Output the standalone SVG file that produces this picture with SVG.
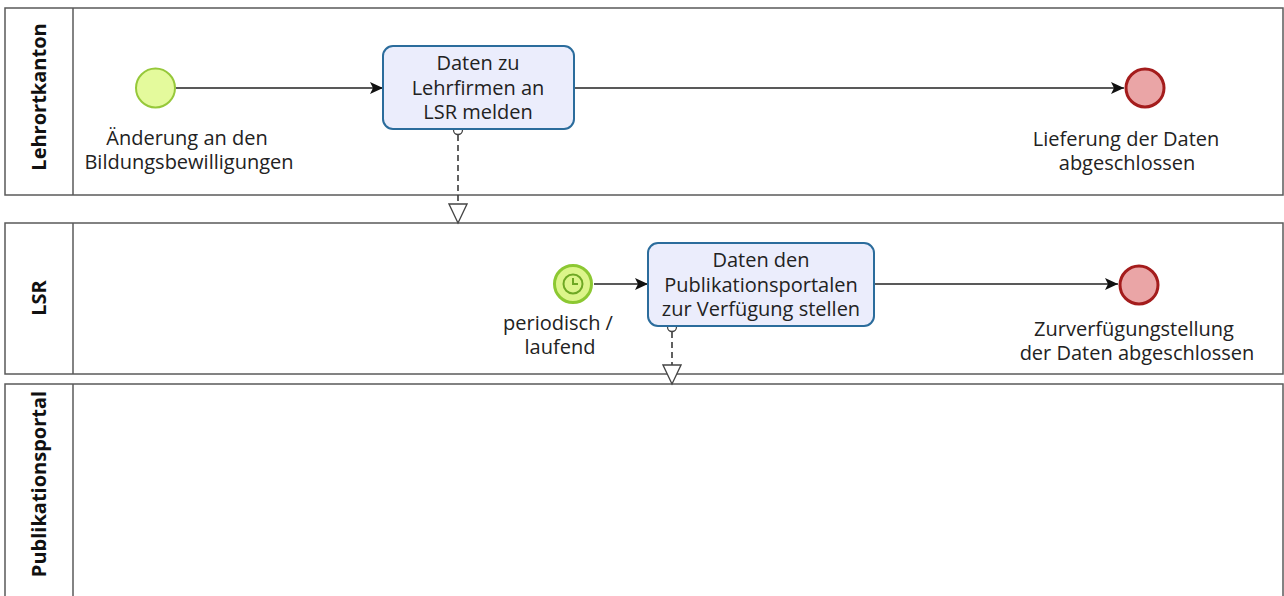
<svg xmlns="http://www.w3.org/2000/svg" width="1284" height="596" viewBox="0 0 1284 596">
  <style>
    .pool { fill: #ffffff; stroke: #5a5a5a; stroke-width: 1.5; }
    .hdr { stroke: #5a5a5a; stroke-width: 1.5; }
    .plabel { font-family: "Open Sans", "Noto Sans", sans-serif; font-weight: bold; font-size: 20px; fill: #111; text-anchor: middle; }
    .txt { font-family: "Open Sans", "Noto Sans", sans-serif; font-size: 20px; fill: #222; text-anchor: middle; }
    .task { fill: #ebedfc; stroke: #2b6c9c; stroke-width: 2; }
    .start { fill: #e4fa9c; stroke: #96c83a; stroke-width: 2; }
    .timer { fill: #dcf58a; stroke: #8cc832; stroke-width: 3; }
    .end { fill: #eaa5a6; stroke: #a41c1c; stroke-width: 3; }
    .seq { fill: none; stroke: #222; stroke-width: 1.5; }
    .msg { fill: none; stroke: #3a3a3a; stroke-width: 1.6; stroke-dasharray: 6 4; }
  </style>
  <defs>
    <marker id="seqArrow" markerWidth="14" markerHeight="12" refX="13" refY="6" orient="auto" markerUnits="userSpaceOnUse">
      <path d="M0,0 L13,6 L0,12 L3,6 Z" fill="#111"/>
    </marker>
    <marker id="msgArrow" markerWidth="20" markerHeight="22" refX="10" refY="20" orient="0" markerUnits="userSpaceOnUse">
      <path d="M1,1 L19,1 L10,20 Z" fill="#fff" stroke="#444" stroke-width="1.3"/>
    </marker>
  </defs>

  <!-- Pools -->
  <g id="pool-lehrortkanton">
    <rect class="pool" x="5" y="8" width="1278" height="187"/>
    <line class="hdr" x1="73" y1="8" x2="73" y2="195"/>
    <text class="plabel" transform="translate(46,97) rotate(-90)">Lehrortkanton</text>
  </g>
  <g id="pool-lsr">
    <rect class="pool" x="5" y="223" width="1278" height="151"/>
    <line class="hdr" x1="73" y1="223" x2="73" y2="374"/>
    <text class="plabel" transform="translate(46,298) rotate(-90)">LSR</text>
  </g>
  <g id="pool-publikationsportal">
    <rect class="pool" x="5" y="384" width="1278" height="220"/>
    <line class="hdr" x1="73" y1="384" x2="73" y2="604"/>
    <text class="plabel" transform="translate(46,484) rotate(-90)">Publikationsportal</text>
  </g>

  <!-- Connectors -->
  <g id="connectors">
    <line class="seq" x1="176" y1="88" x2="383" y2="88" marker-end="url(#seqArrow)"/>
    <line class="seq" x1="574" y1="88" x2="1124" y2="88" marker-end="url(#seqArrow)"/>
    <line class="seq" x1="594" y1="284" x2="648" y2="284" marker-end="url(#seqArrow)"/>
    <line class="seq" x1="875" y1="284" x2="1118" y2="284" marker-end="url(#seqArrow)"/>
    <line class="msg" x1="458" y1="135" x2="458" y2="223" marker-end="url(#msgArrow)"/>
    <circle cx="458" cy="130" r="4.5" fill="#fff" stroke="#444" stroke-width="1.3"/>
    <line class="msg" x1="672" y1="332" x2="672" y2="384" marker-end="url(#msgArrow)"/>
    <circle cx="672" cy="327" r="4.5" fill="#fff" stroke="#444" stroke-width="1.3"/>
  </g>

  <!-- Lehrortkanton -->
  <g id="start-aenderung">
    <circle class="start" cx="155.5" cy="88" r="19.5"/>
    <text class="txt" x="187" y="145">Änderung an den</text>
    <text class="txt" x="189" y="169">Bildungsbewilligungen</text>
  </g>
  <g id="task-daten-melden">
    <rect class="task" x="383" y="46" width="191" height="83" rx="10"/>
    <text class="txt" x="478" y="70">Daten zu</text>
    <text class="txt" x="478" y="95">Lehrfirmen an</text>
    <text class="txt" x="478" y="119">LSR melden</text>
  </g>
  <g id="end-lieferung">
    <circle class="end" cx="1145" cy="88" r="19"/>
    <text class="txt" x="1126" y="146">Lieferung der Daten</text>
    <text class="txt" x="1127" y="170">abgeschlossen</text>
  </g>

  <!-- LSR -->
  <g id="timer-periodisch">
    <circle class="timer" cx="573" cy="284" r="18.5"/>
    <circle cx="573" cy="284" r="9.5" fill="none" stroke="#6ea824" stroke-width="2"/>
    <path d="M573,278 L573,284 L578,284" fill="none" stroke="#6ea824" stroke-width="2"/>
    <text class="txt" x="558" y="330">periodisch /</text>
    <text class="txt" x="560" y="354">laufend</text>
  </g>
  <g id="task-daten-bereitstellen">
    <rect class="task" x="648" y="243" width="226" height="83" rx="10"/>
    <text class="txt" x="761" y="267">Daten den</text>
    <text class="txt" x="761" y="292">Publikationsportalen</text>
    <text class="txt" x="761" y="316">zur Verfügung stellen</text>
  </g>
  <g id="end-zurverfuegung">
    <circle class="end" cx="1139" cy="285" r="19"/>
    <text class="txt" x="1134" y="336">Zurverfügungstellung</text>
    <text class="txt" x="1137" y="360">der Daten abgeschlossen</text>
  </g>
</svg>
